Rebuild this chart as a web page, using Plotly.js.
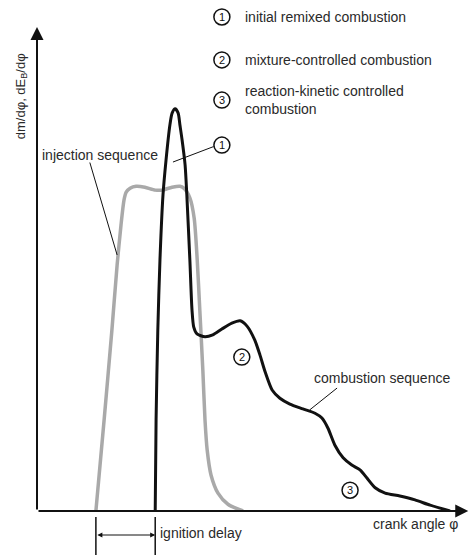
<!DOCTYPE html>
<html>
<head>
<meta charset="utf-8">
<script src="https://cdn.plot.ly/plotly-3.0.1.min.js"></script>
<style>html,body{margin:0;padding:0;background:#fff;}#chart{width:472px;height:557px;}</style>
</head>
<body>
<div id="chart"></div>
<script>
// Injection sequence (grey) – crank angle (arbitrary units) vs rate (arbitrary units)
const injX = [13.6,15.5,17.3,18.5,19.4,20.1,20.6,21.5,22.9,24.9,27.3,28.9,31.2,33.0,33.9,35.3,36.3,37.0,37.6,38.3,38.8,39.3,40.2,41.8,44.1,47.6];
const injY = [0,18.8,37.4,50.8,59.1,64.3,65.9,66.7,67.1,66.9,66.3,66.3,66.9,67.1,66.7,64.7,60.5,51.9,41.5,29.1,18.8,12.6,7.4,3.7,1.4,0];

// Combustion sequence (black)
const combX = [27.3,27.5,27.9,28.4,29.1,29.8,30.7,31.2,31.9,32.6,33.0,33.5,34.2,34.6,35.3,35.8,36.2,36.95,38.8,40.6,42.7,45.0,46.9,48.5,50.3,51.5,52.7,54.3,56.1,58.4,61.4,64.2,65.8,67.2,68.8,70.7,72.7,74.6,76.2,78.1,80.4,83.8,87.3,90.8,95.4];
const combY = [0,18.8,37.4,51.9,65.3,72.5,79.8,82.2,83.1,82.2,79.8,76.7,71.5,65.3,51.9,41.5,38.0,36.6,36.0,36.4,37.6,38.8,39.3,38.2,35.3,32.2,28.7,25.0,23.3,22.1,21.1,20.2,19.2,17.1,13.6,11.0,9.5,8.5,6.8,4.8,3.7,3.1,2.3,1.2,0];

// Labels
const legendNums = ['1','2','3'];
const legendTexts = ['initial remixed combustion','mixture-controlled combustion','reaction-kinetic controlled<br>combustion'];
const yTitle = 'dm/dφ, dE<sub>B</sub>/dφ';
const xTitle = 'crank angle φ';
const injLabel = 'injection sequence';
const combLabel = 'combustion sequence';
const delayLabel = 'ignition delay';

// Key points on the curves
const injStart = injX[0];
const combStart = combX[0];

const FONT = 'Liberation Sans, Arial, Helvetica, sans-serif';
const TXT = '#2a2a2a';

const traces = [
  {x: injX, y: injY, mode: 'lines', line: {color: '#a9a9a9', width: 3.5, shape: 'spline', smoothing: 0.7}, hoverinfo: 'skip'},
  {x: combX, y: combY, mode: 'lines', line: {color: '#111', width: 3, shape: 'spline', smoothing: 0.7}, hoverinfo: 'skip'}
];

const shapes = [];
const annotations = [];
const C = {xanchor: 'center', yanchor: 'middle'};

// axes with arrows
annotations.push({x: 0, y: 100, xref: 'x', yref: 'y', ax: 0, ay: 0, axref: 'x', ayref: 'y', showarrow: true, arrowhead: 2, arrowsize: 1.3, arrowwidth: 2, arrowcolor: '#111', text: ''});
annotations.push({x: 99.6, y: 0, xref: 'x', yref: 'y', ax: 0, ay: 0, axref: 'x', ayref: 'y', showarrow: true, arrowhead: 2, arrowsize: 1.3, arrowwidth: 2, arrowcolor: '#111', text: ''});

// axis titles
annotations.push(Object.assign({text: yTitle, xref: 'paper', yref: 'paper', x: -0.037, y: 0.857, textangle: -90, showarrow: false, font: {family: FONT, size: 13, color: TXT}}, C));
annotations.push(Object.assign({text: xTitle, xref: 'paper', yref: 'paper', x: 0.875, y: -0.026, showarrow: false, font: {family: FONT, size: 14, color: TXT}}, C));

// top legend
const legY = [1.0207, 0.932, 0.849];
legendNums.forEach((n, i) => {
  shapes.push({type: 'circle', xref: 'paper', yref: 'paper', xsizemode: 'pixel', ysizemode: 'pixel', xanchor: 0.427, yanchor: legY[i], x0: -8, x1: 8, y0: -8, y1: 8, line: {color: '#111', width: 1.5}, fillcolor: '#fff'});
  annotations.push(Object.assign({text: n, xref: 'paper', yref: 'paper', x: 0.427, y: legY[i], showarrow: false, font: {family: FONT, size: 11, color: '#111'}}, C));
  annotations.push({text: legendTexts[i], xref: 'paper', yref: 'paper', x: 0.476, y: legY[i], xanchor: 'left', yanchor: 'middle', align: 'left', showarrow: false, font: {family: FONT, size: 14, color: TXT}});
});

// in-plot circled numbers
const circPts = [[42.7, 75.6, '1'], [47.3, 31.8, '2'], [72.3, 4.3, '3']];
circPts.forEach(p => {
  shapes.push({type: 'circle', xref: 'x', yref: 'y', xsizemode: 'pixel', ysizemode: 'pixel', xanchor: p[0], yanchor: p[1], x0: -8, x1: 8, y0: -8, y1: 8, line: {color: '#111', width: 1.5}, fillcolor: '#fff', layer: 'above'});
  annotations.push(Object.assign({text: p[2], x: p[0], y: p[1], xref: 'x', yref: 'y', showarrow: false, font: {family: FONT, size: 11, color: '#111'}}, C));
});

// leader lines
shapes.push({type: 'line', xref: 'x', yref: 'y', x0: 31.4, y0: 72.1, x1: 40.8, y1: 75.3, line: {color: '#111', width: 1}});
shapes.push({type: 'line', xref: 'x', yref: 'y', x0: 12.2, y0: 72.0, x1: 18.5, y1: 52.9, line: {color: '#111', width: 1}});
shapes.push({type: 'line', xref: 'x', yref: 'y', x0: 69.3, y0: 25.4, x1: 63.0, y1: 20.9, line: {color: '#111', width: 1}});

// inline labels
annotations.push(Object.assign({text: injLabel, x: 14.5, y: 73.6, xref: 'x', yref: 'y', showarrow: false, font: {family: FONT, size: 14, color: TXT}}, C));
annotations.push(Object.assign({text: combLabel, x: 79.7, y: 27.5, xref: 'x', yref: 'y', showarrow: false, font: {family: FONT, size: 14, color: TXT}}, C));

// ignition delay dimension
[injStart, combStart].forEach(xv => {
  shapes.push({type: 'line', xref: 'x', yref: 'paper', x0: xv, x1: xv, y0: -0.0124, y1: -0.0909, line: {color: '#111', width: 1.5}});
});
annotations.push({x: combStart, y: -0.0496, xref: 'x', yref: 'paper', ax: injStart, ay: 0, axref: 'x', ayref: 'pixel', showarrow: true, arrowhead: 2, arrowside: 'end+start', arrowsize: 1, arrowwidth: 1, arrowcolor: '#111', text: ''});
annotations.push({text: delayLabel, x: combStart, y: -0.046, xref: 'x', yref: 'paper', xanchor: 'left', yanchor: 'middle', xshift: 3, showarrow: false, font: {family: FONT, size: 14, color: TXT}});

const axisCommon = {showgrid: false, zeroline: false, showticklabels: false, showline: false, ticks: '', fixedrange: true};

const layout = {
  width: 472, height: 557,
  margin: {l: 37, r: 2, t: 27, b: 46, pad: 0},
  paper_bgcolor: '#fff', plot_bgcolor: '#fff',
  showlegend: false,
  xaxis: Object.assign({range: [0, 100]}, axisCommon),
  yaxis: Object.assign({range: [0, 100]}, axisCommon),
  shapes: shapes,
  annotations: annotations
};

Plotly.newPlot('chart', traces, layout, {staticPlot: true, displayModeBar: false});
</script>
</body>
</html>
